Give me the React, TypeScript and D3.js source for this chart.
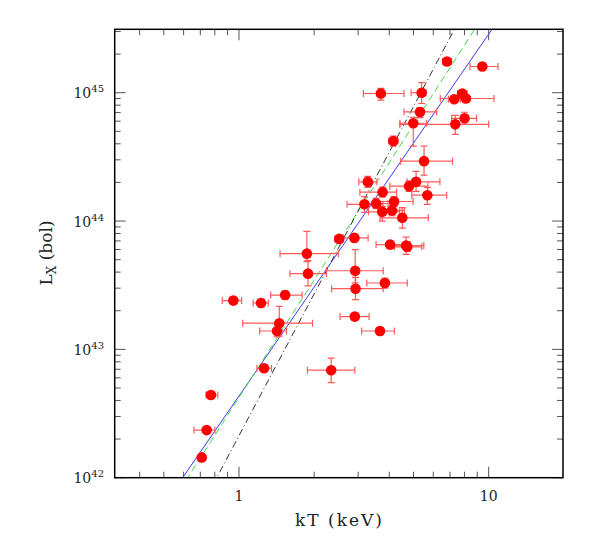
import React from 'react';
import * as d3 from 'd3';

// Temperature (keV) with lower/upper bounds
const kT = [3.70, 6.81, 9.43, 5.39, 7.28, 7.84, 8.11, 5.31, 8.01, 7.35, 4.99, 4.15, 5.51, 3.28, 5.12, 4.80, 5.68, 3.76, 3.18, 3.54, 4.18, 3.75, 4.10, 4.51, 2.52, 2.90, 4.03, 4.67, 4.72, 1.87, 1.89, 2.92, 3.84, 2.93, 2.91, 3.67, 2.34, 0.949, 1.225, 1.53, 1.45, 1.42, 1.26, 0.772, 0.742, 0.709];
const kTLo = [3.15, 6.55, 8.42, 4.89, 6.9, 7.5, 6.4, 4.58, 7.11, 4.41, 4.41, 3.98, 4.44, 3.02, 4.71, 4.02, 4.92, 3.05, 2.71, 3.20, 3.51, 3.30, 3.60, 3.67, 2.42, 2.59, 3.54, 4.17, 4.20, 1.46, 1.60, 2.24, 3.25, 2.35, 2.54, 3.10, 1.88, 0.857, 1.14, 1.34, 1.035, 1.21, 1.18, 0.738, 0.660, 0.69];
const kTHi = [4.58, 7.10, 10.9, 5.61, 7.7, 8.2, 10.5, 6.19, 8.95, 10.0, 5.65, 4.33, 7.17, 3.57, 6.38, 5.71, 6.79, 4.28, 3.77, 3.95, 4.98, 4.40, 4.60, 5.73, 2.62, 3.29, 4.84, 5.50, 5.40, 2.50, 2.24, 3.78, 4.72, 3.78, 3.32, 4.19, 2.91, 1.025, 1.31, 1.79, 1.97, 1.55, 1.35, 0.822, 0.801, 0.73];
// Bolometric luminosity in units of 1e44 erg/s with lower/upper bounds
const LX = [9.86, 17.5, 16.0, 10.0, 8.90, 9.86, 9.01, 7.08, 6.32, 5.67, 5.78, 4.20, 2.93, 2.02, 2.02, 1.87, 1.59, 1.68, 1.35, 1.37, 1.42, 1.18, 1.21, 1.06, 0.726, 0.739, 0.655, 0.644, 0.630, 0.557, 0.389, 0.410, 0.329, 0.297, 0.180, 0.139, 0.0688, 0.240, 0.230, 0.265, 0.160, 0.139, 0.0713, 0.0441, 0.0235, 0.0144];
const LXLo = [8.74, 16.6, 15.2, 8.24, 8.5, 9.4, 8.6, 6.40, 5.67, 4.74, 3.84, 3.84, 2.28, 1.83, 1.70, 1.70, 1.35, 1.54, 1.17, 1.25, 1.30, 1.00, 1.10, 0.88, 0.68, 0.69, 0.61, 0.55, 0.58, 0.483, 0.313, 0.33, 0.30, 0.244, 0.17, 0.13, 0.055, 0.225, 0.215, 0.245, 0.127, 0.125, 0.068, 0.042, 0.0225, 0.0138];
const LXHi = [10.8, 18.5, 16.9, 12.0, 9.3, 10.3, 9.5, 7.66, 7.04, 6.67, 6.43, 4.60, 3.84, 2.23, 2.44, 2.05, 1.83, 1.84, 1.55, 1.50, 1.55, 1.30, 1.33, 1.27, 0.77, 0.79, 0.70, 0.75, 0.68, 0.832, 0.491, 0.599, 0.36, 0.364, 0.19, 0.148, 0.0854, 0.256, 0.245, 0.285, 0.216, 0.155, 0.075, 0.046, 0.0245, 0.015];

// Power-law fits: L = norm * kT^slope (norm in 1e44 at kT = 1 keV)
const fitSlopes = [2.82, 3.04, 3.67];
const fitNorms = [0.0433, 0.0422, 0.02126];
const fitColors = ['#3a3aff', '#44dd44', '#333333'];
const fitDash = ['none', '7,4', '7,3,1,3'];

const xMajor = [1, 10];
const xMajorLabels = ['1', '10'];
const yMajor = [0.01, 0.1, 1, 10];
const yExponents = ['42', '43', '44', '45'];

export default function App() {
  const W = 615, H = 555;
  const left = 114.7, right = 563, top = 29.3, bottom = 477.7;
  const x = d3.scaleLog().domain([0.3178, 19.85]).range([left, right]);
  const y = d3.scaleLog().domain([0.01, 31.2]).range([bottom, top]);

  const xMinor: number[] = [];
  [0.1, 1, 10].forEach(d => { for (let k = 2; k <= 9; k++) { const v = d * k; if (v > 0.3178 && v < 19.85) xMinor.push(v); } });
  const yMinor: number[] = [];
  [0.01, 0.1, 1, 10].forEach(d => { for (let k = 2; k <= 9; k++) { const v = d * k; if (v < 31.2) yMinor.push(v); } });

  const tickColor = '#555';
  const major = 11, minor = 6;

  const fitPath = (i: number) => {
    const ts = [0.3178, 19.85];
    const pts = ts.map(t => [x(t), y(fitNorms[i] * Math.pow(t, fitSlopes[i]))] as [number, number]);
    return d3.line()(pts) as string;
  };

  const cap = 3.5;
  const errColor = '#ff5a5a';

  return (
    <svg width={W} height={H} style={{ position: 'absolute', left: 0, top: 0, background: '#fff' }} fontFamily="'DejaVu Serif', 'Liberation Serif', serif">
      <defs>
        <clipPath id="plotclip"><rect x={left} y={top} width={right - left} height={bottom - top} /></clipPath>
      </defs>
      <rect x={0} y={0} width={W} height={H} fill="#fff" />
      <g stroke={tickColor} strokeWidth={1}>
        {xMajor.map((v, i) => (
          <g key={'xm' + i}>
            <line x1={x(v)} x2={x(v)} y1={bottom} y2={bottom - major} />
            <line x1={x(v)} x2={x(v)} y1={top} y2={top + major} />
          </g>
        ))}
        {xMinor.map((v, i) => (
          <g key={'xn' + i}>
            <line x1={x(v)} x2={x(v)} y1={bottom} y2={bottom - minor} />
            <line x1={x(v)} x2={x(v)} y1={top} y2={top + minor} />
          </g>
        ))}
        {yMajor.map((v, i) => (
          <g key={'ym' + i}>
            <line x1={left} x2={left + major} y1={y(v)} y2={y(v)} />
            <line x1={right} x2={right - major} y1={y(v)} y2={y(v)} />
          </g>
        ))}
        {yMinor.map((v, i) => (
          <g key={'yn' + i}>
            <line x1={left} x2={left + minor} y1={y(v)} y2={y(v)} />
            <line x1={right} x2={right - minor} y1={y(v)} y2={y(v)} />
          </g>
        ))}
      </g>
      <g clipPath="url(#plotclip)">
        {fitSlopes.map((s, i) => (
          <path key={'fit' + i} d={fitPath(i)} fill="none" stroke={fitColors[i]} strokeWidth={1} strokeDasharray={fitDash[i]} />
        ))}
      </g>
      <g stroke={errColor} strokeWidth={1.2} clipPath="url(#plotclip)">
        {kT.map((t, i) => {
          const cx = x(t), cy = y(LX[i]);
          const xl = x(kTLo[i]), xh = x(kTHi[i]);
          const yl = y(LXLo[i]), yh = y(LXHi[i]);
          return (
            <g key={'e' + i}>
              <line x1={xl} x2={xh} y1={cy} y2={cy} />
              <line x1={xl} x2={xl} y1={cy - cap} y2={cy + cap} />
              <line x1={xh} x2={xh} y1={cy - cap} y2={cy + cap} />
              <line x1={cx} x2={cx} y1={yl} y2={yh} />
              <line x1={cx - cap} x2={cx + cap} y1={yl} y2={yl} />
              <line x1={cx - cap} x2={cx + cap} y1={yh} y2={yh} />
            </g>
          );
        })}
      </g>
      <g fill="#ff0000">
        {kT.map((t, i) => (
          <circle key={'p' + i} cx={x(t)} cy={y(LX[i])} r={5.3} />
        ))}
      </g>
      <rect x={left} y={top} width={right - left} height={bottom - top} fill="none" stroke="#000" strokeWidth={1.5} />
      <g fontSize={14} fill="#222" textAnchor="middle">
        {xMajor.map((v, i) => (
          <text key={'xl' + i} x={x(v)} y={bottom + 23}>{xMajorLabels[i]}</text>
        ))}
      </g>
      <g fill="#222" textAnchor="end">
        {yMajor.map((v, i) => (
          <text key={'yl' + i} x={104} y={y(v) + 5.5} fontSize={14}>
            10<tspan fontSize={10} dy={-6}>{yExponents[i]}</tspan>
          </text>
        ))}
      </g>
      <text x={295} y={526} fontSize={17} textLength={87} lengthAdjust="spacing" fill="#222">kT (keV)</text>
      <text transform={`translate(52, 253) rotate(-90)`} fontSize={17} textAnchor="middle" fill="#222">
        L<tspan fontSize={12} dy={4}>X</tspan><tspan dy={-4}> (bol)</tspan>
      </text>
    </svg>
  );
}
